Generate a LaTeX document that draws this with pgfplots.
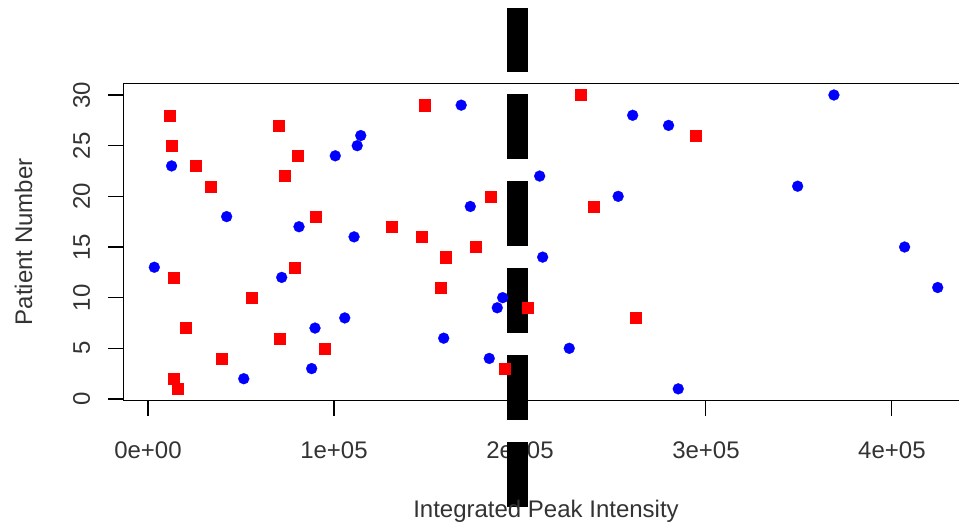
\documentclass[border=0pt]{standalone}
\usepackage{fontspec}
\setmainfont{Liberation Sans}
\usepackage{pgfplots}
\pgfplotsset{compat=1.18}
\begin{document}
\fontsize{18}{21}\selectfont
\begin{tikzpicture}
\begin{axis}[
  at={(92.85pt,92.55pt)}, anchor=south west,
  scale only axis, width=633.3pt, height=238pt,
  xmin=-13000, xmax=441000, ymin=-0.16, ymax=31.16,
  clip=false,
  axis line style={line width=0.8pt, black},
  tick style={line width=0.8pt, black},
  tick align=outside, tick pos=left, major tick length=11.5pt,
  xtick={0,100000,200000,300000,400000},
  xticklabels={0e+00,1e+05,2e+05,3e+05,4e+05},
  ytick={0,5,10,15,20,25,30},
  yticklabels={0,5,10,15,20,25,30},
  scaled x ticks=false,
  every x tick label/.style={anchor=base, yshift=-31.8pt, text=black!80},
  every y tick label/.style={xshift=-13.85pt, rotate=90, anchor=base, text=black!80},
  every axis x label/.style={at={(axis description cs:0.5,-0.3677)}, anchor=base, text=black!80},
  every axis y label/.style={at={(axis description cs:-0.1087,0.5)}, rotate=90, anchor=base, text=black!80},
  xlabel={Integrated Peak Intensity},
  ylabel={Patient Number},
]
\addplot[blue, only marks, mark=*, mark size=4.1pt, mark options={draw=blue, fill=blue, line width=0.2pt}] table {
x y
285100 1
51500 2
88000 3
183500 4
226500 5
159000 6
89800 7
105800 8
187800 9
190700 10
424600 11
71900 12
3400 13
212200 14
406800 15
110800 16
81200 17
42300 18
173300 19
252800 20
349300 21
210600 22
12700 23
100700 24
112500 25
114400 26
279900 27
260600 28
168400 29
368800 30
};
\addplot[red, only marks, mark=square*, mark size=4.15pt, mark options={draw=red, fill=red, line width=0.2pt}] table {
x y
16100 1
14000 2
192000 3
39800 4
94800 5
71000 6
20400 7
262200 8
203900 9
55900 10
157500 11
13600 12
78900 13
160100 14
176200 15
147300 16
131200 17
90000 18
239400 19
184000 20
33900 21
73700 22
25400 23
80500 24
12700 25
294500 26
70400 27
11800 28
148900 29
232600 30
};
\addplot[black, line width=15.75pt, line cap=butt, dash pattern=on 48.75pt off 16.5pt, mark=none] coordinates {(198500,-10.66) (198500,38.59)};
\end{axis}
\pgfresetboundingbox
\useasboundingbox (0,0) rectangle (719.25pt,393pt);
\end{tikzpicture}
\end{document}
